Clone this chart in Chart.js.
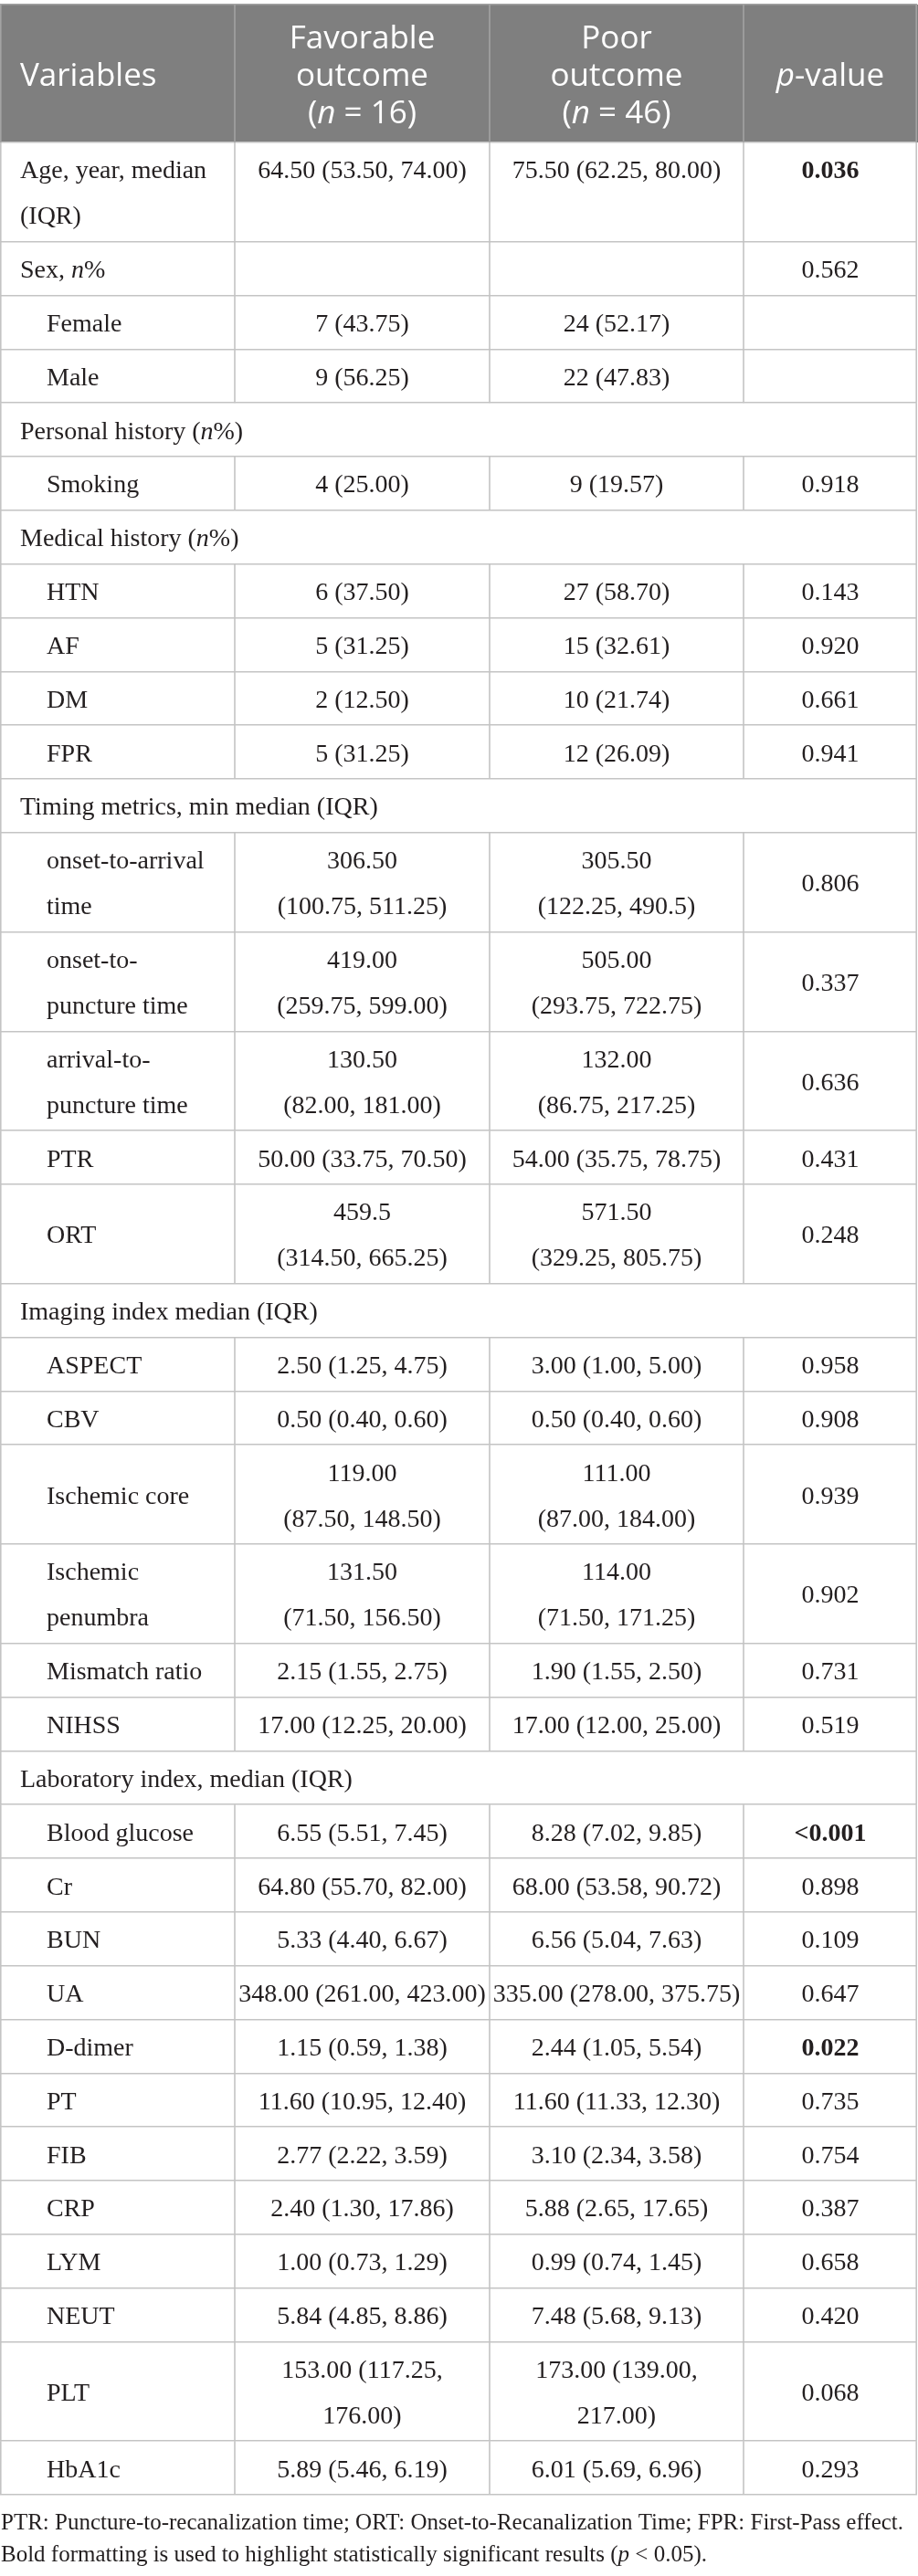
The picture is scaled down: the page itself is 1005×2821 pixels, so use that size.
<!DOCTYPE html>
<html>
<head>
<meta charset="utf-8">
<title>Baseline characteristics by functional outcome</title>
<script src="https://cdn.jsdelivr.net/npm/chart.js@4.4.1/dist/chart.umd.min.js"></script>
<style>
  html, body { margin: 0; padding: 0; background: #ffffff; }
  #wrap { position: relative; width: 1005px; height: 2821px; }
</style>
</head>
<body>
<div id="wrap"><canvas id="outcomeTable"></canvas></div>
<script>
// Column headers (*...* = italic)
const headers = ['Variables', 'Favorable\noutcome\n(*n* = 16)', 'Poor\noutcome\n(*n* = 46)', '*p*-value'];

// Row labels; null in the value arrays marks a section row spanning the table
const variables = [
    'Age, year, median\n(IQR)', 'Sex, *n*%', 'Female', 'Male',
    'Personal history (*n*%)', 'Smoking',
    'Medical history (*n*%)', 'HTN', 'AF', 'DM', 'FPR',
    'Timing metrics, min median (IQR)', 'onset-to-arrival\ntime', 'onset-to-\npuncture time',
    'arrival-to-\npuncture time', 'PTR', 'ORT',
    'Imaging index median (IQR)', 'ASPECT', 'CBV', 'Ischemic core', 'Ischemic\npenumbra',
    'Mismatch ratio', 'NIHSS',
    'Laboratory index, median (IQR)', 'Blood glucose', 'Cr', 'BUN', 'UA', 'D-dimer', 'PT',
    'FIB', 'CRP', 'LYM', 'NEUT', 'PLT', 'HbA1c'
];

const favorable = [
    '64.50 (53.50, 74.00)', '', '7 (43.75)', '9 (56.25)',
    null, '4 (25.00)',
    null, '6 (37.50)', '5 (31.25)', '2 (12.50)', '5 (31.25)',
    null, '306.50\n(100.75, 511.25)', '419.00\n(259.75, 599.00)',
    '130.50\n(82.00, 181.00)', '50.00 (33.75, 70.50)', '459.5\n(314.50, 665.25)',
    null, '2.50 (1.25, 4.75)', '0.50 (0.40, 0.60)', '119.00\n(87.50, 148.50)', '131.50\n(71.50, 156.50)',
    '2.15 (1.55, 2.75)', '17.00 (12.25, 20.00)',
    null, '6.55 (5.51, 7.45)', '64.80 (55.70, 82.00)', '5.33 (4.40, 6.67)', '348.00 (261.00, 423.00)',
    '1.15 (0.59, 1.38)', '11.60 (10.95, 12.40)',
    '2.77 (2.22, 3.59)', '2.40 (1.30, 17.86)', '1.00 (0.73, 1.29)', '5.84 (4.85, 8.86)',
    '153.00 (117.25,\n176.00)', '5.89 (5.46, 6.19)'
];

const poor = [
    '75.50 (62.25, 80.00)', '', '24 (52.17)', '22 (47.83)',
    null, '9 (19.57)',
    null, '27 (58.70)', '15 (32.61)', '10 (21.74)', '12 (26.09)',
    null, '305.50\n(122.25, 490.5)', '505.00\n(293.75, 722.75)',
    '132.00\n(86.75, 217.25)', '54.00 (35.75, 78.75)', '571.50\n(329.25, 805.75)',
    null, '3.00 (1.00, 5.00)', '0.50 (0.40, 0.60)', '111.00\n(87.00, 184.00)', '114.00\n(71.50, 171.25)',
    '1.90 (1.55, 2.50)', '17.00 (12.00, 25.00)',
    null, '8.28 (7.02, 9.85)', '68.00 (53.58, 90.72)', '6.56 (5.04, 7.63)', '335.00 (278.00, 375.75)',
    '2.44 (1.05, 5.54)', '11.60 (11.33, 12.30)',
    '3.10 (2.34, 3.58)', '5.88 (2.65, 17.65)', '0.99 (0.74, 1.45)', '7.48 (5.68, 9.13)',
    '173.00 (139.00,\n217.00)', '6.01 (5.69, 6.96)'
];

const pValues = [
    '0.036', '0.562', '', '',
    null, '0.918',
    null, '0.143', '0.920', '0.661', '0.941',
    null, '0.806', '0.337', '0.636', '0.431', '0.248',
    null, '0.958', '0.908', '0.939', '0.902', '0.731', '0.519',
    null, '<0.001', '0.898', '0.109', '0.647', '0.022', '0.735',
    '0.754', '0.387', '0.658', '0.420', '0.068', '0.293'
];

const footnotes = [
    'PTR: Puncture-to-recanalization time; ORT: Onset-to-Recanalization Time; FPR: First-Pass effect.',
    'Bold formatting is used to highlight statistically significant results (*p* < 0.05).'
];

const SIG_LEVEL = 0.05;

// layout / style
const colWidths = [257, 279, 278, 190];
const HEAD_LINE = 41, HEAD_PAD = 28;
const BODY_LINE = 50, BODY_PAD = 8.8;
const BODY_FONT = '28px "Liberation Serif", "Times New Roman", serif';
const HEAD_FONT = '35px "Open Sans", "Noto Sans", sans-serif';
const NOTE_FONT = '25px "Liberation Serif", "Times New Roman", serif';
const COLORS = {
    headBg: '#7f7f7f',
    headText: '#ffffff',
    headRule: '#a3a3a3',
    rule: '#c4c4c4',
    text: '#231f20'
};

const lineCount = s => (s == null || s === '') ? 1 : String(s).split('\n').length;

// build row geometry (in table units, 1 unit = 1 px)
const rows = [];
let inGroup = false;
variables.forEach((label, i) => {
    const section = favorable[i] === null;
    const valueLines = Math.max(lineCount(favorable[i]), lineCount(poor[i]));
    const lines = Math.max(lineCount(label), valueLines);
    rows.push({
        cells: [label, favorable[i], poor[i], pValues[i]],
        section,
        indent: inGroup && !section,
        lines,
        top: valueLines < lines,
        height: lines * BODY_LINE + BODY_PAD
    });
    if (section || favorable[i] === '') inGroup = true;
});

const rowEdges = [0, HEAD_LINE * 3 + HEAD_PAD];
rows.forEach(r => rowEdges.push(rowEdges[rowEdges.length - 1] + r.height));
const tableHeight = rowEdges[rowEdges.length - 1];

const colEdges = [0];
colWidths.forEach(w => colEdges.push(colEdges[colEdges.length - 1] + w));

function isSignificant(p) {
    if (!p) return false;
    return parseFloat(p.replace('<', '')) < SIG_LEVEL;
}

// draws text with *italic* segments
function drawRich(ctx, text, x, y, align, font, bold) {
    const parts = text.split('*');
    const fonts = parts.map((p, i) => (i % 2 ? 'italic ' : '') + (bold ? 'bold ' : '') + font);
    const widths = parts.map((p, i) => { ctx.font = fonts[i]; return ctx.measureText(p).width; });
    const total = widths.reduce((a, b) => a + b, 0);
    let cx = align === 'center' ? x - total / 2 : x;
    parts.forEach((p, i) => {
        ctx.font = fonts[i];
        ctx.fillText(p, cx, y);
        cx += widths[i];
    });
}

function vline(ctx, x, y0, y1, color) {
    ctx.beginPath();
    ctx.strokeStyle = color;
    ctx.lineWidth = 1.6;
    ctx.moveTo(x, y0);
    ctx.lineTo(x, y1);
    ctx.stroke();
}

const tablePlugin = {
    id: 'tableCells',
    beforeDraw(chart) {
        const { ctx, scales: { x, y } } = chart;
        ctx.save();
        ctx.fillStyle = COLORS.headBg;
        const top = y.getPixelForValue(rowEdges[0]);
        const bottom = y.getPixelForValue(rowEdges[1]);
        ctx.fillRect(x.getPixelForValue(0), top, x.getPixelForValue(colEdges[4]) + 1, bottom - top);
        ctx.restore();
    },
    afterDraw(chart) {
        const { ctx, scales: { x, y } } = chart;
        const colPx = colEdges.map(v => x.getPixelForValue(v));
        ctx.save();
        ctx.textBaseline = 'alphabetic';

        // header
        const hTop = y.getPixelForValue(rowEdges[0]);
        const hBottom = y.getPixelForValue(rowEdges[1]);
        for (let c = 1; c < 4; c++) vline(ctx, colPx[c], hTop, hBottom, COLORS.headRule);
        vline(ctx, colPx[0] + 0.8, hTop, hBottom, COLORS.headRule);
        vline(ctx, colPx[4] - 0.8, hTop, hBottom, COLORS.headRule);
        ctx.fillStyle = COLORS.headText;
        headers.forEach((h, c) => {
            const lines = h.split('\n');
            const blockTop = (hTop + hBottom) / 2 - lines.length * HEAD_LINE / 2;
            lines.forEach((ln, k) => {
                const by = blockTop + k * HEAD_LINE + 34;
                if (c === 0) drawRich(ctx, ln, colPx[0] + 22, by, 'left', HEAD_FONT, false);
                else drawRich(ctx, ln, (colPx[c] + colPx[c + 1]) / 2, by, 'center', HEAD_FONT, false);
            });
        });

        // body
        rows.forEach((r, i) => {
            const top = y.getPixelForValue(rowEdges[i + 1]);
            const bottom = y.getPixelForValue(rowEdges[i + 2]);
            vline(ctx, colPx[0] + 0.8, top, bottom, COLORS.rule);
            vline(ctx, colPx[4] - 0.8, top, bottom, COLORS.rule);
            if (!r.section) {
                for (let c = 1; c < 4; c++) vline(ctx, colPx[c], top, bottom, COLORS.rule);
            }
            ctx.fillStyle = COLORS.text;
            r.cells.forEach((cell, c) => {
                if (cell == null || cell === '') return;
                const lines = String(cell).split('\n');
                const blockH = lines.length * BODY_LINE;
                const blockTop = r.top ? top + BODY_PAD / 2 : (top + bottom) / 2 - blockH / 2;
                const bold = c === 3 && isSignificant(cell);
                lines.forEach((ln, k) => {
                    const by = blockTop + k * BODY_LINE + 35;
                    if (c === 0) {
                        drawRich(ctx, ln, colPx[0] + (r.indent ? 51 : 22), by, 'left', BODY_FONT, false);
                    } else {
                        drawRich(ctx, ln, (colPx[c] + colPx[c + 1]) / 2, by, 'center', BODY_FONT, bold);
                    }
                });
            });
        });

        // footnotes
        const tBottom = y.getPixelForValue(tableHeight);
        ctx.fillStyle = COLORS.text;
        footnotes.forEach((f, k) => {
            drawRich(ctx, f, colPx[0] + 1, tBottom + 38 + k * 35, 'left', NOTE_FONT, false);
        });
        ctx.restore();
    }
};

function buildTable() {
    const canvas = document.getElementById('outcomeTable');
    return new Chart(canvas, {
        type: 'scatter',
        data: { datasets: [] },
        options: {
            responsive: true,
            maintainAspectRatio: false,
            animation: false,
            events: [],
            layout: { padding: { top: 5, left: 0, right: 1, bottom: 2821 - 5 - Math.round(tableHeight) } },
            plugins: { legend: { display: false }, tooltip: { enabled: false } },
            scales: {
                x: {
                    type: 'linear', display: false,
                    min: 0, max: colEdges[colEdges.length - 1]
                },
                y: {
                    type: 'linear', reverse: true,
                    min: 0, max: tableHeight,
                    afterBuildTicks: scale => { scale.ticks = rowEdges.map(v => ({ value: v })); },
                    ticks: { display: false },
                    border: { display: false },
                    grid: {
                        drawTicks: false,
                        lineWidth: 1.6,
                        color: ctx => (ctx.tick && ctx.tick.value === 0) ? COLORS.headRule : COLORS.rule
                    }
                }
            }
        },
        plugins: [tablePlugin]
    });
}

const fontsReady = document.fonts
    ? Promise.all([
        document.fonts.load(BODY_FONT), document.fonts.load('bold ' + BODY_FONT),
        document.fonts.load('italic ' + BODY_FONT), document.fonts.load(HEAD_FONT),
        document.fonts.load('italic ' + HEAD_FONT)
      ]).catch(() => null)
    : Promise.resolve();

fontsReady.then(() => { window.outcomeTable = buildTable(); });
</script>
</body>
</html>
